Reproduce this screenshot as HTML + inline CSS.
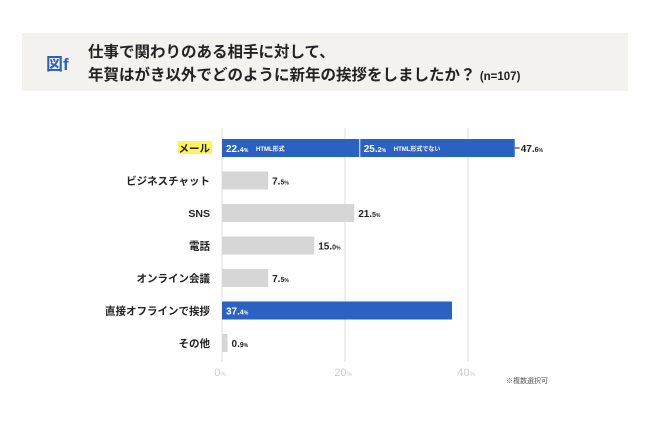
<!DOCTYPE html>
<html><head><meta charset="utf-8"><style>
body{margin:0;width:650px;height:434px;background:#fff;overflow:hidden;font-family:"Liberation Sans","Noto Sans CJK JP",sans-serif;}
</style></head><body>
<svg width="650" height="434" style="position:absolute;left:0;top:0">
<rect x="22" y="33" width="606" height="58" fill="#f4f2ee"/>
<text x="46" y="70" font-size="17" font-weight="bold" fill="#2a62c4">図f</text>
<text x="88" y="57" font-size="15.5" font-weight="bold" fill="#222">仕事で関わりのある相手に対して、</text>
<text x="88" y="80" font-size="15.5" font-weight="bold" fill="#222">年賀はがき以外でどのように新年の挨拶をしましたか？ <tspan font-size="11.5">(n=107)</tspan></text>
<g id="grid"></g><g id="bars"></g>
<text x="548" y="383" font-size="7" fill="#555" text-anchor="end">※複数選択可</text>
</svg>
<script>
const categories=["メール","ビジネスチャット","SNS","電話","オンライン会議","直接オフラインで挨拶","その他"];
const totals=[47.6,7.5,21.5,15.0,7.5,37.4,0.9];
const highlighted=[true,false,false,false,false,true,false];
const mailSplit=[22.4,25.2];
const mailSplitLabels=["HTML形式","HTML形式でない"];
const ticks=[0,20,40];
const NS="http://www.w3.org/2000/svg";
const x=v=>222+v*6.15;
const y=i=>148+i*32.5;
function mk(t,a,p,txt){const e=document.createElementNS(NS,t);for(const k in a)e.setAttribute(k,a[k]);if(txt!=null)e.textContent=txt;p.appendChild(e);return e;}
const g=document.getElementById('grid'),b=document.getElementById('bars');
ticks.forEach(t=>{
 const l=mk('line',{x1:x(t),x2:x(t),y1:128,y2:362,stroke:'#ddd','stroke-width':1},g);
 
 
 const tx=mk('text',{x:x(t)-2,y:376,'font-size':11,fill:'#ccc','text-anchor':'middle'},g);
 
 
 mk('tspan',{},tx,String(t));mk('tspan',{'font-size':6},tx,'%');
});
function val(v,xx,yy,col,sz){
 const s=v.toFixed(1).split('.');
 const t=mk('text',{x:xx,y:yy,'font-size':sz,'font-weight':'bold',fill:col},b);
 mk('tspan',{},t,s[0]+'.');mk('tspan',{'font-size':sz*0.7},t,s[1]);mk('tspan',{'font-size':sz*0.5},t,'%');
 return t;
}
categories.forEach((c,i)=>{
 const cy=y(i);
 if(i===0){const hl=mk('rect',{x:178,y:cy-7,width:34,height:13,fill:'#fff35c'},b);
  
  }
 const lb=mk('text',{x:210,y:cy+4,'font-size':10.5,'font-weight':'bold',fill:'#222','text-anchor':'end'},b,c);
 
 
 const r=mk('rect',{x:x(0),y:cy-9,width:x(totals[i])-x(0),height:18,fill:highlighted[i]?'#2b62c2':'#d6d6d6'},b);
 
 
 if(i===0){
  const sx=x(mailSplit[0]);
  mk('line',{x1:sx,x2:sx,y1:cy-9,y2:cy+9,stroke:'#fff','stroke-width':1},b);
  const a=val(mailSplit[0],x(0)+4,cy+4,'#fff',10);
  mk('text',{x:x(0)+34,y:cy+3,'font-size':6,'font-weight':'bold',fill:'#fff'},b,mailSplitLabels[0]);
  const a2=val(mailSplit[1],sx+4,cy+4,'#fff',10);
  mk('text',{x:sx+34,y:cy+3,'font-size':6,'font-weight':'bold',fill:'#fff'},b,mailSplitLabels[1]);
  mk('line',{x1:x(totals[0]),x2:x(totals[0])+5,y1:cy,y2:cy,stroke:'#222'},b);
  const t=val(totals[0],x(totals[0])+6,cy+4,'#222',10);
 } else if(highlighted[i]){
  const t=val(totals[i],x(0)+4,cy+4,'#fff',10);
 } else {
  const t=val(totals[i],Math.max(x(totals[i]),x(0)+2)+4,cy+4,'#222',10);
 }
});
</script>
</body></html>
